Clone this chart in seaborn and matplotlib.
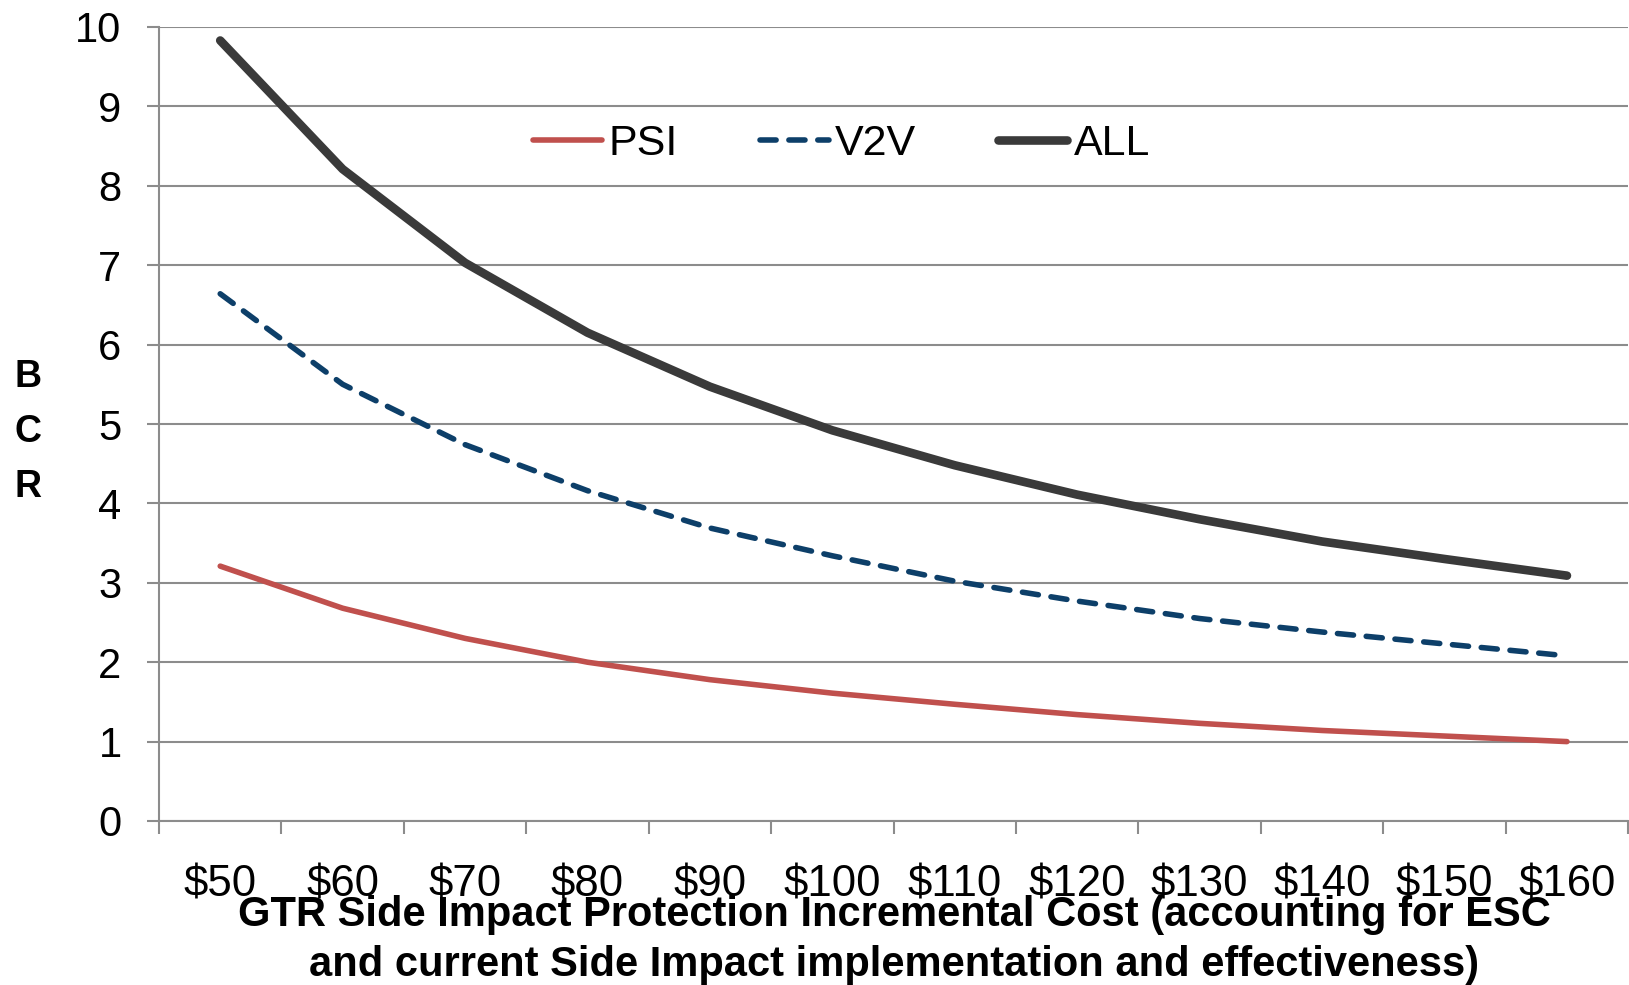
import matplotlib
matplotlib.use("Agg")
import matplotlib.pyplot as plt
import seaborn as sns
import pandas as pd
import numpy as np
from matplotlib.ticker import FixedLocator

# Incremental cost categories and benefit-cost ratios per scenario
costs = ["$50", "$60", "$70", "$80", "$90", "$100", "$110", "$120", "$130", "$140", "$150", "$160"]
psi = [3.21, 2.68, 2.30, 2.00, 1.78, 1.61, 1.47, 1.34, 1.23, 1.14, 1.07, 1.00]
v2v = [6.64, 5.50, 4.74, 4.16, 3.69, 3.34, 3.02, 2.77, 2.55, 2.38, 2.23, 2.08]
all_ = [9.83, 8.21, 7.03, 6.15, 5.47, 4.92, 4.48, 4.11, 3.80, 3.52, 3.30, 3.09]
y_ticks = [0, 1, 2, 3, 4, 5, 6, 7, 8, 9, 10]

sns.set_theme(style="white")
plt.rcParams["font.family"] = ["Liberation Sans", "DejaVu Sans"]
plt.rcParams["text.color"] = "black"
plt.rcParams["axes.labelcolor"] = "black"

df = pd.DataFrame({"pos": np.arange(len(costs)), "cost": costs,
                   "PSI": psi, "V2V": v2v, "ALL": all_})

W, H = 1629, 985
fig = plt.figure(figsize=(W / 100, H / 100), dpi=100)
ax = fig.add_axes([159 / W, 1 - 821 / H, 1 - 159 / W - 0.0005, (821 - 27) / H])

grid_c = "#8C8C8C"
ax.set_axisbelow(True)
ax.yaxis.grid(True, color=grid_c, linewidth=1.5)

sns.lineplot(data=df, x="pos", y="PSI", ax=ax, color="#C0504D", linewidth=4.0,
             label="PSI", solid_capstyle="round")
sns.lineplot(data=df, x="pos", y="V2V", ax=ax, color="#0D3F69", linewidth=4.0,
             label="V2V")
sns.lineplot(data=df, x="pos", y="ALL", ax=ax, color="#3A3A3A", linewidth=6.2,
             label="ALL", solid_capstyle="round")

lines = ax.get_lines()
lines[1].set_linestyle((0, (2.9, 2.3)))
lines[1].set_dash_capstyle("round")

ax.set_xlim(-0.5, len(costs) - 0.5)
ax.set_ylim(0, 10)
ax.set_yticks(y_ticks)
ax.set_yticklabels([str(v) for v in y_ticks])

# category labels at centres, tick marks at category boundaries
ax.set_xticks(df["pos"])
ax.set_xticklabels(costs)
ax.xaxis.set_minor_locator(FixedLocator(np.arange(-0.5, len(costs), 1.0)))
ax.tick_params(axis="x", which="major", length=0, pad=31, labelsize=31.5,
               labelcolor="black")
ax.tick_params(axis="x", which="minor", bottom=True, length=9, width=1.5, color=grid_c)
ax.tick_params(axis="y", which="major", left=True, length=9, width=1.5, color=grid_c,
               pad=18, labelsize=30, labelcolor="black")

for side in ["top", "right"]:
    ax.spines[side].set_visible(False)
for side in ["left", "bottom"]:
    ax.spines[side].set_color(grid_c)
    ax.spines[side].set_linewidth(1.5)

ax.set_xlabel("")
ax.set_ylabel("")
fig.text(894 / W, 1 - 940 / H,
         "GTR Side Impact Protection Incremental Cost (accounting for ESC\n"
         "and current Side Impact implementation and effectiveness)",
         ha="center", va="center", fontsize=30, fontweight="bold",
         linespacing=1.3, color="black")
fig.text(28 / W, 1 - 432 / H, "B\nC\nR", ha="center", va="center",
         fontsize=27, fontweight="bold", linespacing=1.68, color="black")

leg = ax.legend(loc="center", ncol=3, frameon=False, fontsize=31,
                handlelength=1.6, handletextpad=0.15, columnspacing=1.9)
leg.set_bbox_to_anchor(((842 - 159) / (W - 159), (821 - 144) / (821 - 27)),
                       transform=ax.transAxes)
for t in leg.get_texts():
    t.set_color("black")
for h in leg.get_lines():
    h.set_solid_capstyle("round")
    h.set_dash_capstyle("round")

fig.savefig("out.png", dpi=100)
